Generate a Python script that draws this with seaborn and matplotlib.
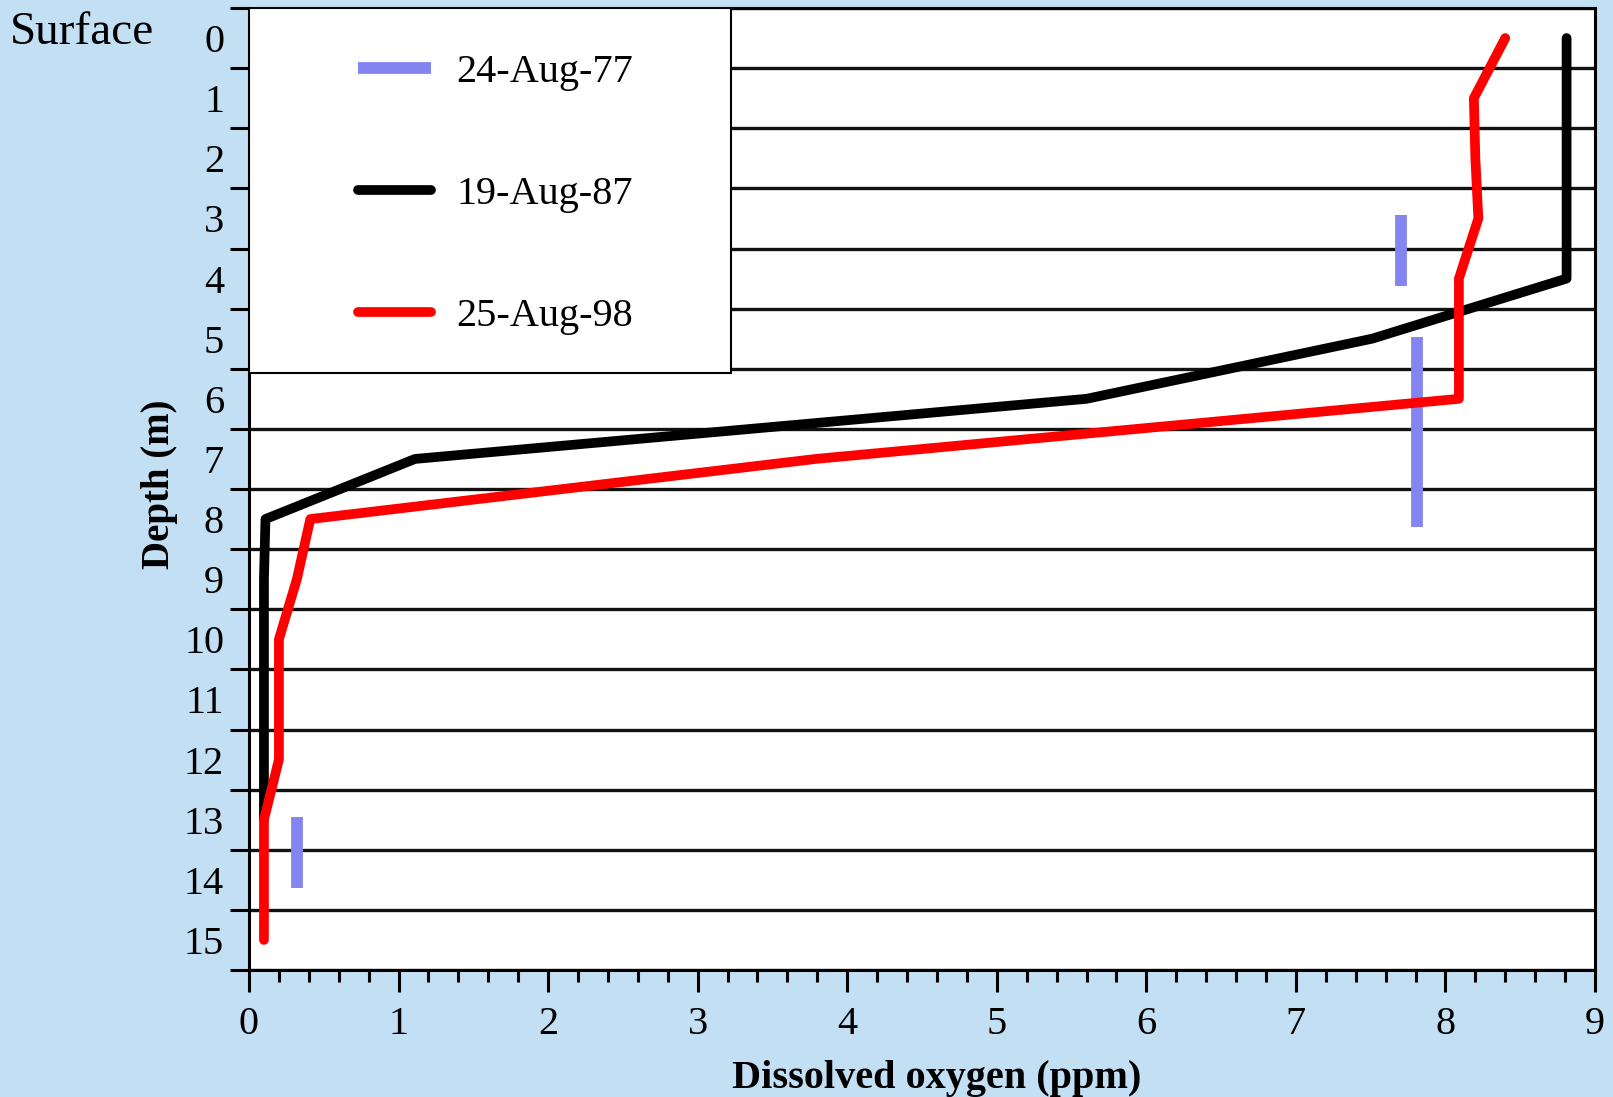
import numpy as np
import pandas as pd
import matplotlib
matplotlib.use('Agg')
import matplotlib.pyplot as plt
import seaborn as sns
from matplotlib.patches import Rectangle

# 19-Aug-87 profile
depth_87 = [0, 1, 2, 3, 4, 5, 6, 7, 8, 9, 10, 11, 12, 13]
oxygen_87 = [8.81, 8.81, 8.81, 8.81, 8.81, 7.51, 5.6, 1.11, 0.11, 0.1, 0.1, 0.1, 0.1, 0.1]

# 25-Aug-98 profile
depth_98 = [0, 1, 2, 3, 4, 5, 6, 7, 8, 9, 10, 11, 12, 13, 14, 15]
oxygen_98 = [8.4, 8.19, 8.2, 8.22, 8.09, 8.09, 8.09, 3.79, 0.41, 0.32, 0.2, 0.2, 0.2, 0.1, 0.1, 0.1]

# 24-Aug-77 readings shown as vertical bars
oxygen_77 = [7.70, 7.81, 0.32]
top_77 = [2.94, 4.98, 12.96]
bottom_77 = [4.12, 8.13, 14.14]

depth_labels = [str(d) for d in range(16)]
x_ticks = list(range(10))

df = pd.concat([
    pd.DataFrame({'depth': depth_87, 'oxygen': oxygen_87, 'date': '19-Aug-87'}),
    pd.DataFrame({'depth': depth_98, 'oxygen': oxygen_98, 'date': '25-Aug-98'}),
])

bg = '#c3dff4'
sns.set_style('ticks')
plt.rcParams['font.family'] = ['Liberation Serif', 'DejaVu Serif']
for k in ['text.color', 'axes.labelcolor', 'xtick.color', 'ytick.color']:
    plt.rcParams[k] = 'black'

fig = plt.figure(figsize=(16.13, 10.97), dpi=100, facecolor=bg)
ax = fig.add_axes([249 / 1613, 1 - 970 / 1097, 1346 / 1613, 962 / 1097])
ax.set_facecolor('white')

ax.vlines(oxygen_77, top_77, bottom_77, colors='#8585f2', linewidth=8.5,
          label='24-Aug-77', zorder=3)
sns.lineplot(data=df, x='oxygen', y='depth', hue='date', sort=False, estimator=None,
             palette={'19-Aug-87': 'black', '25-Aug-98': '#ff0000'},
             linewidth=7, solid_capstyle='round', solid_joinstyle='round',
             ax=ax, zorder=4, legend=False)
ax.plot([], [], color='black', lw=7, solid_capstyle='round', label='19-Aug-87')
ax.plot([], [], color='#ff0000', lw=7, solid_capstyle='round', label='25-Aug-98')

ax.set_xlim(0, 9)
ax.set_ylim(15.5, -0.5)

# y axis: boundary ticks with grid, labels centred in between
ax.set_yticks(np.arange(-0.5, 16, 1))
ax.set_yticklabels([])
ax.set_yticks(np.arange(0, 16), minor=True)
ax.set_yticklabels(depth_labels, minor=True)
ax.tick_params(axis='y', which='major', length=14, width=2.2, direction='out')
ax.tick_params(axis='y', which='minor', length=0, labelsize=29, pad=18)
ax.yaxis.grid(True, which='major', color='#111111', linewidth=2.4)

ax.set_xticks(x_ticks)
ax.set_xticks(np.arange(0, 9.01, 0.2), minor=True)
ax.tick_params(axis='x', which='major', length=16, width=2.2, direction='out',
               labelsize=29, pad=10)
ax.tick_params(axis='x', which='minor', length=8.5, width=2.2, direction='out')

for s in ax.spines.values():
    s.set_linewidth(2.2)
    s.set_color('black')

ax.set_xlabel('Dissolved oxygen (ppm)', fontsize=29, fontweight='bold')
ax.set_ylabel('Depth (m)', fontsize=28, fontweight='bold')
ax.xaxis.set_label_coords(0.511, -0.094)
ax.yaxis.set_label_coords(-0.053, 0.505)

# legend box
ax.add_patch(Rectangle((0, 0.621), 0.358, 0.379, transform=ax.transAxes,
                       facecolor='white', edgecolor='black', linewidth=1.5, zorder=5))
leg = ax.legend(loc='upper left', bbox_to_anchor=(0.081, 0.952), frameon=False,
                fontsize=29, handlelength=1.8, handletextpad=0.65,
                labelspacing=2.1, borderpad=0, borderaxespad=0)
leg.set_zorder(6)

fig.text(10 / 1613, 1 - 33 / 1097, 'Surface', fontsize=34, va='center', ha='left')

fig.savefig('out.png', dpi=100, facecolor=bg)
